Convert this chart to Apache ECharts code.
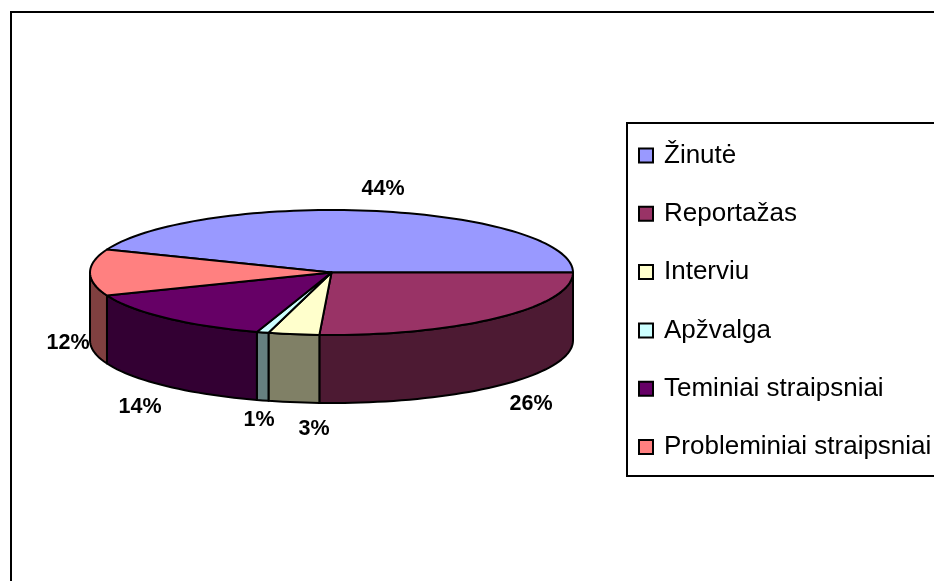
<!DOCTYPE html>
<html>
<head>
<meta charset="utf-8">
<title>Pie</title>
<script src="https://cdn.jsdelivr.net/npm/echarts@6/dist/echarts.min.js"></script>
<style>
  html, body { margin: 0; padding: 0; background: #fff; }
  #main { width: 934px; height: 581px; }
</style>
</head>
<body>
<div id="main"></div>
<script>
const categories = ['Žinutė', 'Reportažas', 'Interviu', 'Apžvalga', 'Teminiai straipsniai', 'Probleminiai straipsniai'];
const values = [44, 25.8, 3.4, 0.8, 14, 12];
const topColors = ['#9999FF', '#993366', '#FFFFCC', '#CCFFFF', '#660066', '#FF8080'];
const wallColors = ['#4D4D80', '#4D1A33', '#808066', '#668080', '#330033', '#804040'];
const labelPos = [[383, 189], [531, 404], [314, 429], [259, 420], [140, 407], [68, 343]];

// pie geometry, px
const cx = 331.5, cy = 272.5, rx = 241.5, ry = 62.5, depth = 68;
const total = values.reduce((a, b) => a + b, 0);
// slice 0 ends at 3 o'clock, angles go clockwise on screen
const startDeg = -values[0] / total * 360;

function rimPoint(deg, dy) {
    const a = deg * Math.PI / 180;
    return [cx + rx * Math.cos(a), cy + ry * Math.sin(a) + dy];
}

function arcPoints(from, to, dy) {
    let pts = [];
    const n = Math.max(2, Math.ceil(Math.abs(to - from) / 2));
    for (let i = 0; i <= n; i++) {
        pts.push(rimPoint(from + (to - from) * i / n, dy));
    }
    return pts;
}

const lineStyle = { stroke: '#000', lineWidth: 2, lineJoin: 'round' };

function sliceSeries(idx) {
    let before = 0;
    for (let i = 0; i < idx; i++) before += values[i];
    const a0 = startDeg + before / total * 360;
    const a1 = a0 + values[idx] / total * 360;
    return {
        type: 'custom',
        name: categories[idx],
        coordinateSystem: 'none',
        silent: true,
        animation: false,
        itemStyle: { color: topColors[idx] },
        data: [values[idx]],
        z: 2 + idx,
        renderItem: function () {
            let children = [];
            // only the part facing the viewer gets a wall
            const w0 = Math.max(a0, 0), w1 = Math.min(a1, 180);
            if (w1 > w0) {
                const front = arcPoints(w0, w1, 0);
                const back = arcPoints(w1, w0, depth);
                children.push({
                    type: 'polygon',
                    shape: { points: front.concat(back) },
                    style: Object.assign({ fill: wallColors[idx] }, lineStyle)
                });
            }
            children.push({
                type: 'polygon',
                shape: { points: [[cx, cy]].concat(arcPoints(a0, a1, 0)) },
                style: Object.assign({ fill: topColors[idx] }, lineStyle)
            });
            children.push({
                type: 'text',
                style: {
                    x: labelPos[idx][0],
                    y: labelPos[idx][1],
                    text: Math.round(values[idx]) + '%',
                    fill: '#000',
                    font: 'bold 21.5px "Liberation Sans", Arial, sans-serif',
                    align: 'center',
                    verticalAlign: 'middle'
                }
            });
            return { type: 'group', children: children };
        }
    };
}

const chart = echarts.init(document.getElementById('main'), null, { renderer: 'canvas' });
chart.setOption({
    backgroundColor: '#fff',
    animation: false,
    tooltip: { show: false },
    graphic: [{
        type: 'rect',
        silent: true,
        z: 0,
        shape: { x: 11, y: 12, width: 1500, height: 1000 },
        style: { fill: 'none', stroke: '#000', lineWidth: 2 }
    }],
    legend: {
        orient: 'vertical',
        left: 627,
        top: 123,
        selectedMode: false,
        icon: 'rect',
        itemWidth: 14,
        itemHeight: 14,
        itemGap: 32.3,
        padding: [19.5, 40, 16, 11],
        backgroundColor: '#fff',
        borderColor: '#000',
        borderWidth: 2,
        itemStyle: { borderColor: '#000', borderWidth: 2 },
        textStyle: {
            color: '#000',
            fontFamily: '"Liberation Sans", Arial, sans-serif',
            fontSize: 26,
            padding: [0, 0, 0, 6]
        },
        data: categories
    },
    series: categories.map((c, i) => sliceSeries(i))
});
</script>
</body>
</html>
